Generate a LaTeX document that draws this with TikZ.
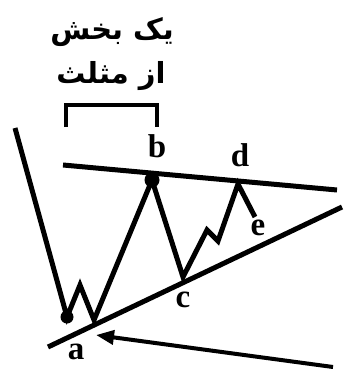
\documentclass[tikz,border=0pt]{standalone}
\usepackage{fontspec}
\setmainfont{Liberation Serif}
\newfontfamily\arabicfont[Script=Arabic]{DejaVu Sans}
\TeXXeTstate=1
\usetikzlibrary{arrows.meta}
\begin{document}
\begin{tikzpicture}[x=1pt,y=-1pt,
  thick line/.style={line width=5pt},
  letter/.style={font=\fontsize{33}{34}\selectfont\bfseries, inner sep=0pt},
  ptext/.style={font=\fontsize{29}{32}\selectfont\arabicfont\bfseries, inner sep=0pt}]
\useasboundingbox (0,0) rectangle (343,369);
% labels
\node[ptext] (t1) at (112,32) {\beginR یک بخش\endR};
\node[ptext] (t2) at (111,76) {\beginR از مثلث\endR};
% bracket
\coordinate (br1) at (66,127);
\coordinate (br2) at (66,105);
\coordinate (br3) at (157,105);
\coordinate (br4) at (157,127);
\draw[line width=4.5pt] (br1) -- (br2) -- (br3) -- (br4);
% points
\coordinate (start) at (15,128);
\coordinate (dot) at (67,317);
\coordinate (p1) at (80,285);
\coordinate (a) at (94,320);
\coordinate (b) at (152,180);
\coordinate (c) at (183,277);
\coordinate (q1) at (207,230);
\coordinate (q2) at (218,241);
\coordinate (d) at (238,184);
\coordinate (e) at (255,217);
\coordinate (tl1) at (63,165);
\coordinate (tl2) at (337,190);
\coordinate (ll1) at (48,347);
\coordinate (ll2) at (342,207);
\coordinate (ar1) at (333,367);
\coordinate (ar2) at (96,335);
% trend lines
\draw[thick line] (tl1) -- (tl2);
\draw[thick line] (ll1) -- (ll2);
% price path
\draw[thick line, line join=miter] (start) -- (dot) -- (p1) -- (a) -- (b) -- (c) -- (q1) -- (q2) -- (d) -- (e);
\fill (dot) circle (6.5);
\fill (b) circle (7.5);
% arrow
\draw[line width=4pt, -{Triangle[length=18pt,width=14pt]}] (ar1) -- (ar2);
% letters
\node[letter] (la) at (76,352) {a};
\node[letter] (lb) at (157,146) {b};
\node[letter] (lc) at (183,300) {c};
\node[letter] (ld) at (240,155) {d};
\node[letter] (le) at (258,228) {e};
\end{tikzpicture}
\end{document}
